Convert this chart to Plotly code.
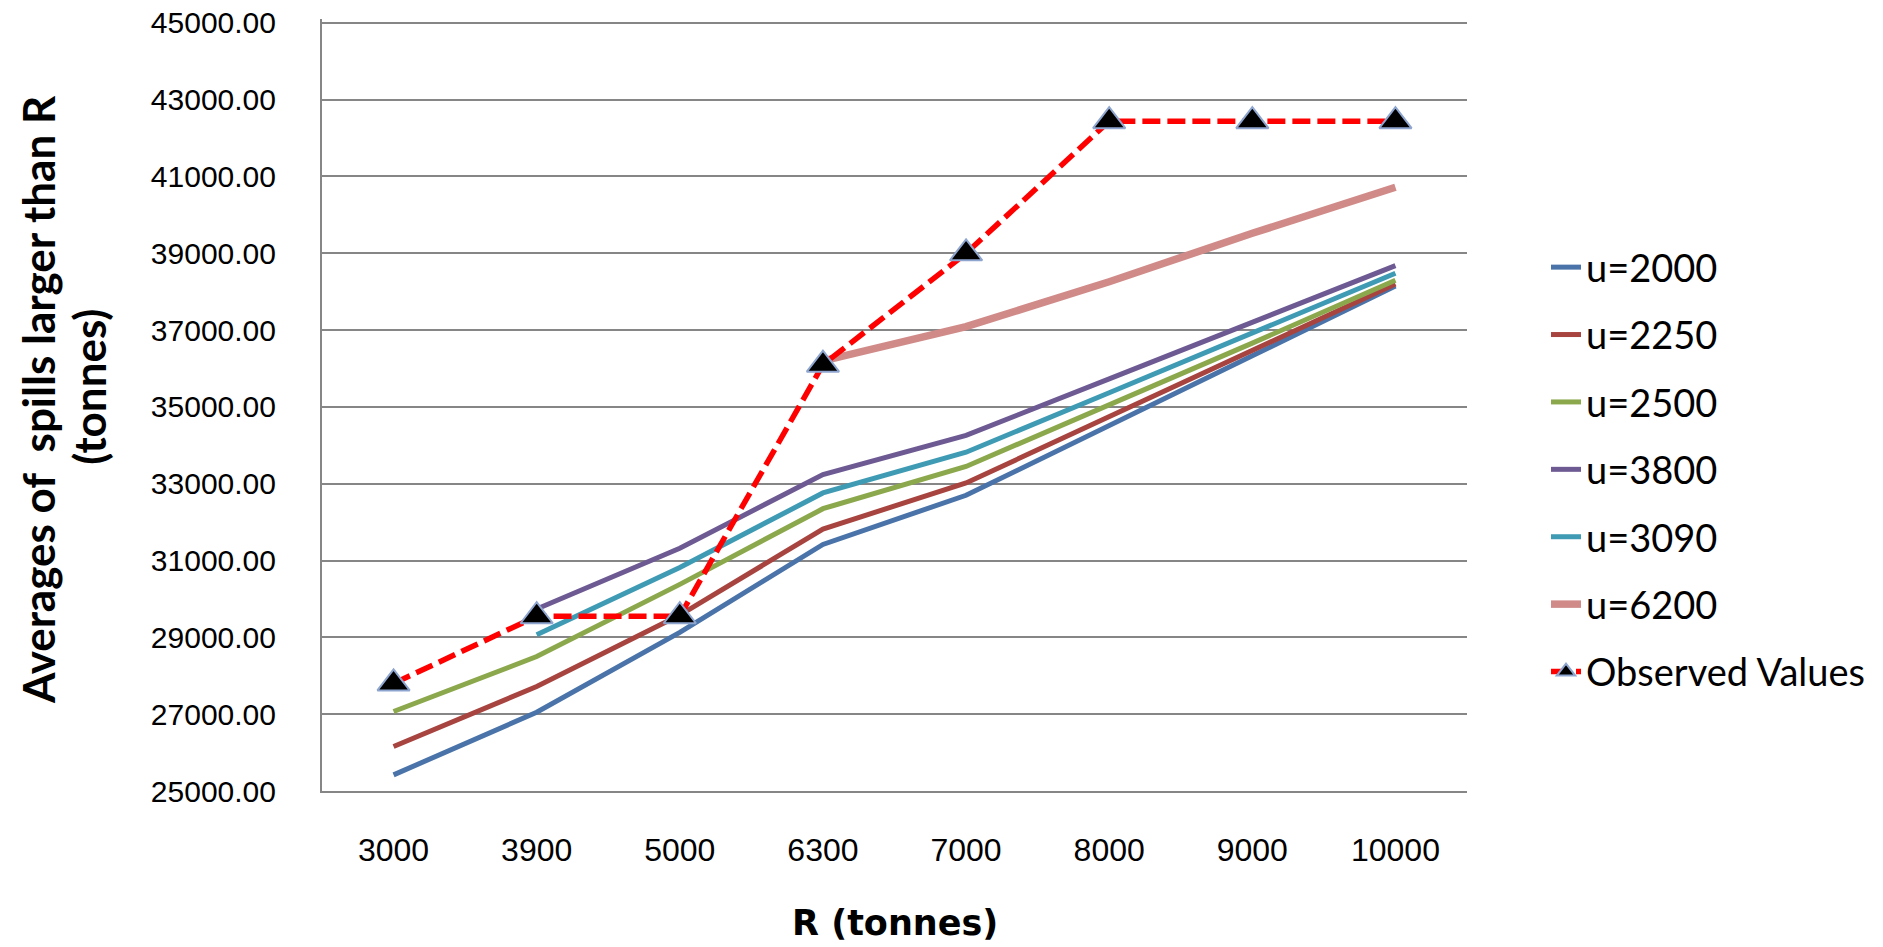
import plotly.graph_objects as go

categories = ["3000", "3900", "5000", "6300", "7000", "8000", "9000", "10000"]

u2000 = [25420, 27050, 29130, 31420, 32700, 34500, 36330, 38150]
u2250 = [26160, 27720, 29580, 31820, 33020, 34750, 36450, 38200]
u2500 = [27070, 28500, 30380, 32350, 33450, 35050, 36660, 38300]
u3800 = [None, 29740, 31320, 33240, 34260, 35730, 37210, 38680]
u3090 = [None, 29070, 30820, 32760, 33820, 35370, 36930, 38480]
u6200 = [None, None, None, 36200, 37090, 38260, 39520, 40720]
observed = [27800, 29550, 29550, 36100, 39000, 42440, 42440, 42440]

series = [
    ("u=2000", u2000, "#4a74a9", 5),
    ("u=2250", u2250, "#a8443f", 5),
    ("u=2500", u2500, "#8ca84c", 5),
    ("u=3800", u3800, "#6e5a93", 5),
    ("u=3090", u3090, "#3f9bb4", 5),
    ("u=6200", u6200, "#d08b89", 7.5),
]

fig = go.Figure()
for i, (name, vals, color, w) in enumerate(series):
    fig.add_trace(go.Scatter(
        x=categories, y=vals, name=name, mode="lines",
        line=dict(color=color, width=w),
        legendgroup=f"g{i}", connectgaps=False,
    ))

fig.add_trace(go.Scatter(
    x=categories, y=observed, name="Observed Values", mode="lines+markers",
    line=dict(color="#ff0000", width=5.5, dash="18px,7px"),
    marker=dict(symbol="triangle-up", size=28, color="#000000",
                line=dict(color="#8ea5cf", width=2)),
    legendgroup="obs",
))

tick_font_y = dict(family="Liberation Sans, Arial, sans-serif", size=30, color="#000000")
tick_font_x = dict(family="Liberation Sans, Arial, sans-serif", size=32, color="#000000")
title_font = dict(family="Lato, Open Sans, sans-serif", size=44, color="#000000")

fig.update_layout(
    width=1883, height=947,
    paper_bgcolor="white", plot_bgcolor="white",
    margin=dict(l=322, r=416, t=19, b=156, autoexpand=False),
    showlegend=True,
    legend=dict(
        x=1.069, xanchor="left", y=0.719, yanchor="top",
        font=dict(family="Lato, Open Sans, sans-serif", size=38, color="#000000"),
        tracegroupgap=15, bgcolor="rgba(0,0,0,0)",
    ),
    xaxis=dict(
        type="category", range=[-0.5, 7.5],
        showgrid=False, showline=True, linecolor="#868686", linewidth=2,
        ticks="", ticklabelstandoff=30,
        tickfont=tick_font_x,
    ),
    yaxis=dict(
        range=[25000, 45100], tick0=25000, dtick=2000, tickformat=".2f",
        showgrid=True, gridcolor="#868686", gridwidth=2,
        showline=True, linecolor="#868686", linewidth=2,
        ticks="", ticklabelstandoff=38, zeroline=False,
        ticklabeloverflow="allow",
        tickfont=tick_font_y,
    ),
    annotations=[
        dict(text="<b>R (tonnes)</b>", xref="paper", yref="paper",
             x=0.5, y=-0.171, xanchor="center", yanchor="middle", showarrow=False,
             font=dict(family="DejaVu Sans, sans-serif", size=35, color="#000000")),
        dict(text="<b>Averages of  spills larger than R</b>", xref="paper", yref="paper",
             x=-0.2485, y=0.507, xanchor="center", yanchor="middle", showarrow=False,
             textangle=-90, font=title_font),
        dict(text="<b>(tonnes)</b>", xref="paper", yref="paper",
             x=-0.203, y=0.523, xanchor="center", yanchor="middle", showarrow=False,
             textangle=-90, font=title_font),
    ],
)

# remove the browser's default 8px body margin so the figure fills the window exactly
fig.write_html("out.html", config={"displayModeBar": False},
               post_script="document.body.style.margin='0';")
